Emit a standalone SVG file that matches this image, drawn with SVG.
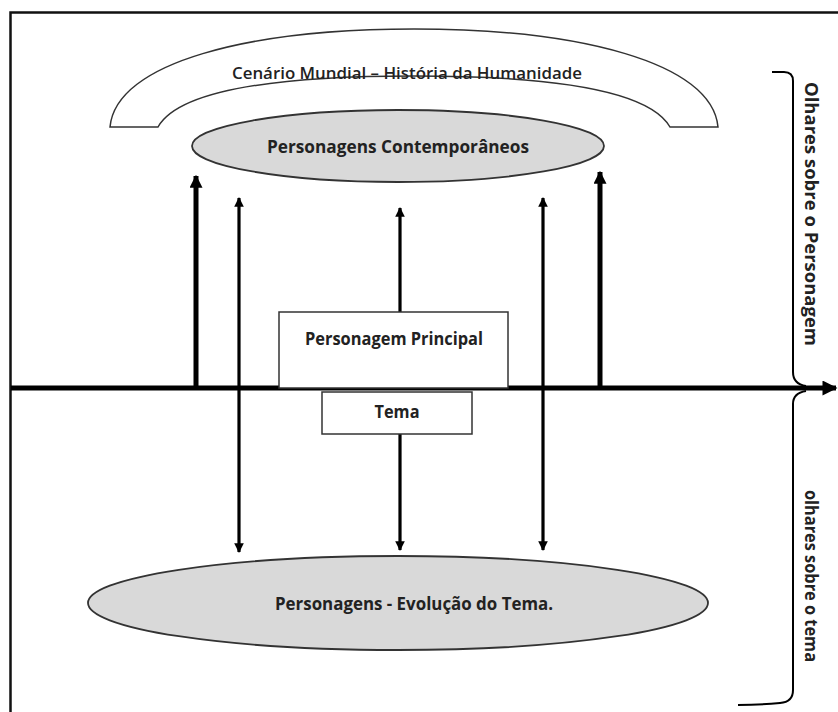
<svg xmlns="http://www.w3.org/2000/svg" width="838" height="712" viewBox="0 0 838 712">
<defs>
<style>
.t{font-family:"Open Sans","Liberation Sans",sans-serif;font-weight:700;fill:#222;text-anchor:middle;dominant-baseline:central}
.t.reg{font-weight:600}
.shape{stroke:#333;stroke-width:1.5}
.ell{fill:#d9d9d9;stroke:#333;stroke-width:1.8}
.box{fill:#fff;stroke:#333;stroke-width:1.5}
.thick{stroke:#000;stroke-width:5;fill:none}
.thin{stroke:#000;stroke-width:3.2;fill:none}
.brace{stroke:#000;stroke-width:2;fill:none}
</style>
<marker id="ahB" viewBox="0 0 10 10" refX="9" refY="5" markerWidth="2.6" markerHeight="2.6" orient="auto-start-reverse" markerUnits="strokeWidth"><path d="M0,0 L10,5 L0,10 Z" fill="#000"/></marker>
<marker id="ahS" viewBox="0 0 10 10" refX="9" refY="5" markerWidth="3" markerHeight="3" orient="auto-start-reverse" markerUnits="strokeWidth"><path d="M0,0 L10,5 L0,10 Z" fill="#000"/></marker>
<marker id="ahAxis" viewBox="0 0 10 10" refX="9" refY="5" markerWidth="3.5" markerHeight="3" orient="auto" markerUnits="strokeWidth"><path d="M0,0 L10,5 L0,10 Z" fill="#000"/></marker>
</defs>
<rect width="838" height="712" fill="#fff"/>
<g id="frame"><path d="M10.5,712 V12.5 H838" fill="none" stroke="#111" stroke-width="2.5"/></g>

<g id="cenario">
<path class="shape" fill="#fff" d="M110,127 C116,62 250,29 414,29 C578,29 712,62 718,127 L670,127 C650,92 560,76 414,76 C268,76 178,92 158,127 Z"/>
<text class="t reg" x="407" y="72" font-size="17" textLength="350" lengthAdjust="spacingAndGlyphs">Cenário Mundial – História da Humanidade</text>
</g>

<g id="contemporaneos">
<ellipse class="ell" cx="398" cy="146" rx="206" ry="36"/>
<text class="t" x="398" y="146" font-size="17" textLength="262" lengthAdjust="spacingAndGlyphs">Personagens Contemporâneos</text>
</g>

<g id="connectors">
<line class="thick" x1="11" y1="388" x2="836" y2="388" marker-end="url(#ahAxis)"/>
<line class="thick" x1="196" y1="388" x2="196" y2="176" marker-end="url(#ahB)"/>
<line class="thick" x1="600" y1="388" x2="600" y2="172" marker-end="url(#ahB)"/>
<line class="thin" x1="239" y1="198" x2="239" y2="552" marker-start="url(#ahS)" marker-end="url(#ahS)"/>
<line class="thin" x1="543" y1="198" x2="543" y2="550" marker-start="url(#ahS)" marker-end="url(#ahS)"/>
<line class="thin" x1="400" y1="312" x2="400" y2="208" marker-end="url(#ahS)"/>
<line class="thin" x1="400" y1="434" x2="400" y2="550" marker-end="url(#ahS)"/>
</g>

<g id="principal">
<rect class="box" x="279" y="312" width="229" height="76"/>
<text class="t" x="394" y="338" font-size="17" textLength="178" lengthAdjust="spacingAndGlyphs">Personagem Principal</text>
</g>

<g id="tema">
<rect class="box" x="322" y="392" width="150" height="42"/>
<text class="t" x="397" y="411" font-size="17" textLength="45" lengthAdjust="spacingAndGlyphs">Tema</text>
</g>

<g id="evolucao">
<ellipse class="ell" cx="398" cy="603" rx="310" ry="47"/>
<text class="t" x="414" y="603" font-size="17" textLength="278" lengthAdjust="spacingAndGlyphs">Personagens - Evolução do Tema.</text>
</g>

<g id="olhares-personagem">
<path class="brace" d="M772,72 H784 Q793,72 793,81 V372 Q793,384 806,386"/>
<text class="t" transform="translate(811,214) rotate(90)" x="0" y="0" font-size="17" textLength="264" lengthAdjust="spacingAndGlyphs">Olhares sobre o Personagem</text>
</g>

<g id="olhares-tema">
<path class="brace" d="M806,391 Q793,393 793,404 V690 Q793,702 780,703 Q760,705 738,705"/>
<text class="t" transform="translate(811,576) rotate(90)" x="0" y="0" font-size="17" textLength="172" lengthAdjust="spacingAndGlyphs">olhares sobre o tema</text>
</g>
</svg>
